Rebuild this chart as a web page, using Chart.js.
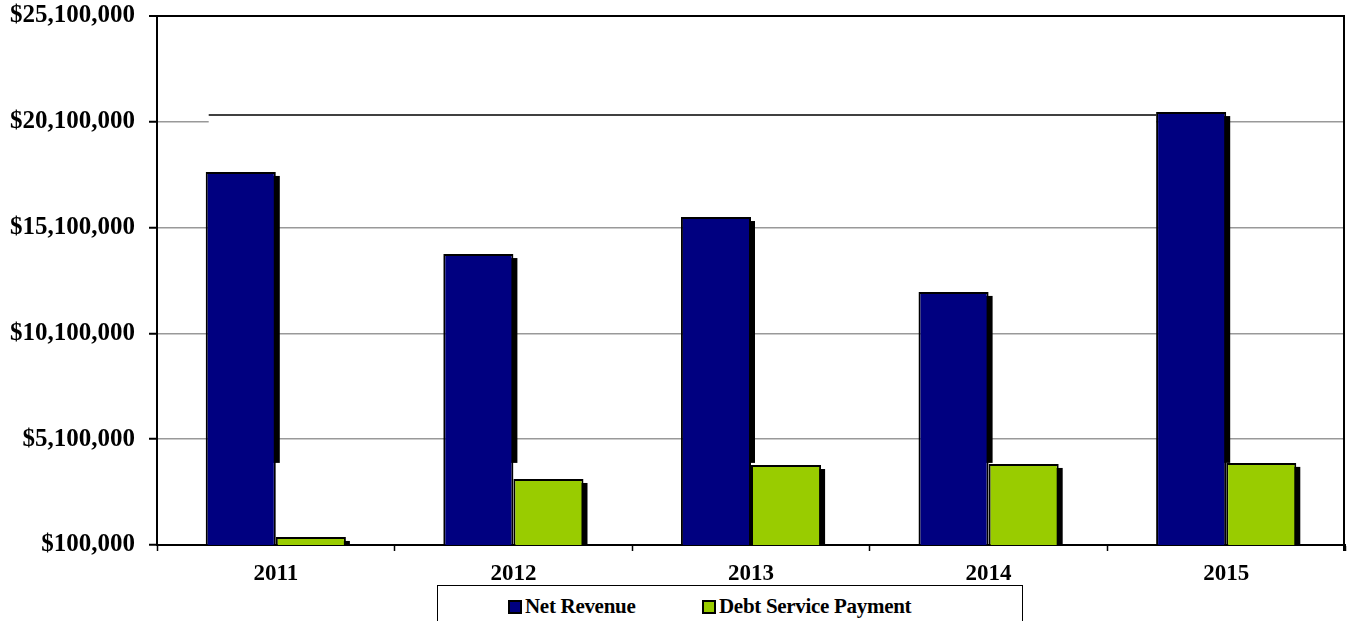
<!DOCTYPE html>
<html>
<head>
<meta charset="utf-8">
<script src="https://cdn.jsdelivr.net/npm/chart.js@4/dist/chart.umd.min.js"></script>
<style>
  html, body { margin: 0; padding: 0; background: #fff; }
  #wrap { position: relative; width: 1348px; height: 621px; overflow: hidden; }
  #legend {
    position: absolute; left: 437px; top: 585px; width: 584px; height: 50px;
    border: 1.5px solid #000; background: #fff;
    font-family: 'Liberation Serif', 'Times New Roman', serif; font-weight: bold; font-size: 21px; color: #000;
    letter-spacing: -0.3px;
  }
  .item { position: absolute; top: 7px; white-space: nowrap; line-height: 26px; }
  .sw { display: inline-block; width: 10px; height: 10px; border: 2px solid #000; vertical-align: -1px; margin-right: 3px; }
</style>
</head>
<body>
<div id="wrap">
  <canvas id="c" width="1348" height="621"></canvas>
  <div id="legend"></div>
</div>
<script>
// Fiscal years and the two series, in dollars
const years = ['2011', '2012', '2013', '2014', '2015'];
const netRevenue = [17730000, 13850000, 15600000, 12060000, 20560000];
const debtServicePayment = [480000, 3220000, 3880000, 3930000, 3980000];
const seriesNames = ['Net Revenue', 'Debt Service Payment'];
const seriesColors = ['#000080', '#99CC00'];
const axisMin = 100000, axisMax = 25100000, axisStep = 5000000;

const FONT = "'Liberation Serif', 'Times New Roman', serif";

// Black drop shadows behind the bars, plus the rule across the upper plot
const shadowPlugin = {
  id: 'barShadows',
  beforeDatasetsDraw(chart) {
    const ctx = chart.ctx, area = chart.chartArea, ys = chart.scales.y;
    const nr = chart.getDatasetMeta(0).data;
    ctx.save();
    // rule at the level of the 2015 revenue bar, spanning 2011..2015
    const gy = ys.getPixelForValue(axisMin + 4 * axisStep);
    const x0 = nr[0].x - nr[0].width / 2 + 3;
    const x1 = nr[nr.length - 1].x - nr[nr.length - 1].width / 2;
    ctx.fillStyle = '#fff';
    ctx.fillRect(x0, gy - 2, x1 - x0, 4);
    const ry = nr[nr.length - 1].y + 3;
    ctx.strokeStyle = '#000';
    ctx.lineWidth = 1.5;
    ctx.beginPath(); ctx.moveTo(x0, ry); ctx.lineTo(x1, ry); ctx.stroke();

    ctx.beginPath();
    ctx.rect(area.left, area.top, area.right - area.left, area.bottom - area.top);
    ctx.clip();
    ctx.fillStyle = '#000';
    const dsMaxY = ys.getPixelForValue(Math.max(...debtServicePayment));
    chart.data.datasets.forEach((ds, i) => {
      chart.getDatasetMeta(i).data.forEach(bar => {
        const left = bar.x - bar.width / 2;
        const bottom = i === 0 ? dsMaxY : bar.base;
        if (bottom > bar.y + 4) ctx.fillRect(left + 4, bar.y + 4, bar.width, bottom - bar.y - 4);
      });
    });
    ctx.restore();
  },
  afterDraw(chart) {
    const ctx = chart.ctx, a = chart.chartArea;
    ctx.save();
    ctx.strokeStyle = '#000';
    ctx.lineWidth = 2;
    ctx.beginPath();
    ctx.moveTo(a.right - 1, a.top);
    ctx.lineTo(a.right - 1, a.bottom + 6);
    ctx.stroke();
    ctx.restore();
  }
};

new Chart(document.getElementById('c'), {
  type: 'bar',
  data: {
    labels: years,
    datasets: [
      { label: seriesNames[0], data: netRevenue, backgroundColor: seriesColors[0] },
      { label: seriesNames[1], data: debtServicePayment, backgroundColor: seriesColors[1] }
    ]
  },
  options: {
    responsive: false,
    animation: false,
    layout: { padding: { top: 16, right: 3, left: 0, bottom: 0 } },
    datasets: {
      bar: {
        categoryPercentage: 0.59, barPercentage: 1.0,
        borderColor: '#000', borderWidth: 2, borderSkipped: false
      }
    },
    plugins: { legend: { display: false }, tooltip: { enabled: false } },
    scales: {
      x: {
        afterFit(s) { s.height = 76; s.paddingLeft = 0; s.paddingRight = 0; },
        grid: { offset: true, drawOnChartArea: false, tickLength: 6, tickColor: '#000', tickWidth: 1.5 },
        border: { color: '#000', width: 2 },
        ticks: { color: '#000', padding: 9, font: { family: FONT, weight: 'bold', size: 23 } }
      },
      y: {
        min: axisMin, max: axisMax,
        afterFit(s) { s.width = 157; s.paddingTop = 0; s.paddingBottom = 0; },
        afterBuildTicks(s) {
          s.ticks = [];
          for (let v = axisMin; v <= axisMax; v += axisStep) s.ticks.push({ value: v });
        },
        grid: {
          color: c => (c.tick && (c.tick.value === axisMax || c.tick.value === axisMin)) ? '#000' : '#999',
          lineWidth: c => (c.tick && c.tick.value === axisMax) ? 2 : 1.5,
          tickLength: 8, tickColor: '#000', tickWidth: 2
        },
        border: { color: '#000', width: 2 },
        ticks: {
          color: '#000', padding: 14,
          font: { family: FONT, weight: 'bold', size: 25 },
          callback: v => '$' + Number(v).toLocaleString('en-US')
        }
      }
    }
  },
  plugins: [shadowPlugin]
});

// Legend
const lg = document.getElementById('legend');
const legendLeft = [70, 264];
seriesNames.forEach((name, i) => {
  const d = document.createElement('div');
  d.className = 'item';
  d.style.left = legendLeft[i] + 'px';
  const sw = document.createElement('span');
  sw.className = 'sw';
  sw.style.background = seriesColors[i];
  d.appendChild(sw);
  d.appendChild(document.createTextNode(name));
  lg.appendChild(d);
});
</script>
</body>
</html>
